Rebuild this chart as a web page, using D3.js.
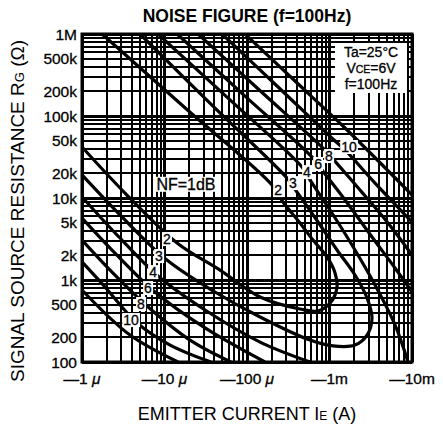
<!DOCTYPE html>
<html>
<head>
<meta charset="utf-8">
<script src="https://cdn.jsdelivr.net/npm/d3@7"></script>
<style>
  body { margin: 0; background: #fff; }
  text { font-family: "Liberation Sans", Arial, Helvetica, sans-serif; fill: #000; }
</style>
</head>
<body>
<svg id="chart" width="443" height="430"></svg>
<script>
// emitter current in µA, source resistance in ohms
const xTicks = [1, 10, 100, 1000, 10000];
const xTickLabels = ['—1 μ', '—10 μ', '—100 μ', '—1m', '—10m'];
const yTicks = [1e6, 5e5, 2e5, 1e5, 5e4, 2e4, 1e4, 5e3, 2e3, 1e3, 500, 200, 100];
const yTickLabels = ['1M', '500k', '200k', '100k', '50k', '20k', '10k', '5k', '2k', '1k', '500', '200', '100'];

// NF contours, [Ie (µA), Rg (Ω)]
const nf2 = [[1.75, 1e6], [18.7, 120000], [201, 14400], [273, 8940], [439, 4960], [631, 3070], [933, 1910],
  [1167, 1220], [1233, 822], [1042, 539], [726, 419], [439, 443], [144, 621], [47.1, 1320],
  [14.2, 2830], [3.32, 11500], [1, 41900]];
const nf3 = [[5.05, 1e6], [38.7, 132000], [305, 17500], [404, 11800], [726, 5100], [1233, 2320], [2037, 1150],
  [2851, 603], [3275, 344], [2851, 213], [2037, 161], [1102, 157], [580, 185], [144, 354],
  [40.9, 714], [10.7, 1750], [2.89, 6210], [1, 19100]];
const nf4Upper = [[8.34, 1e6], [62.2, 157000], [464, 23900], [580, 16600], [1014, 7140], [1874, 2670],
  [3563, 869], [6223, 283], [8951, 100]];
const nf4Lower = [[1, 10300], [2.73, 3440], [8.34, 1120], [31.0, 431], [144, 175], [580, 100]];
const nf6Upper = [[14.2, 1e6], [94.6, 175000], [631, 30700], [811, 21900], [1542, 9460], [3275, 3350],
  [6223, 1400], [10000, 714]];
const nf6Lower = [[1, 5700], [2.51, 2130], [7.67, 714], [31.0, 260], [165, 100]];
const nf8Upper = [[25.5, 1e6], [150, 196000], [882, 38500], [1134, 29000], [2342, 12500], [5117, 4960],
  [10000, 2020]];
const nf8Lower = [[1, 3070], [2.19, 1320], [6.14, 482], [20.4, 185], [64.0, 100]];
const nf10Upper = [[49.8, 1e6], [238, 226000], [1134, 50900], [1542, 38500], [3563, 15200], [10000, 5100]];
const nf10Lower = [[1, 1660], [1.90, 822], [4.51, 308], [11.7, 161], [36.6, 100]];
const outerUpper = [[94.6, 1e6], [382, 267000], [1542, 71400], [10000, 10900]];
const outerLower = [[1, 755], [3.82, 213], [14.6, 100]];

// contour labels: text and the point they sit on
const labelText = ['2', '3', '4', '6', '8', '10', '2', '3', '4', '6', '8', '10'];
const labelAt = [[238, 12500], [361, 15200], [534, 20700], [726, 26000], [986, 32500], [1722, 41900],
  [10.7, 3160], [8.58, 1960], [7.26, 1250], [6.31, 798], [5.19, 510], [3.93, 325]];
const minLabel = 'NF=1dB';
const minLabelAt = [18.2, 14800];

const svg = d3.select('#chart');
const plotL = 82, plotR = 412, plotT = 34, plotB = 362;

const x = d3.scaleLog().domain([1, 10000]).range([plotL, plotR]);
const y = d3.scaleLog().domain([100, 1e6]).range([plotB, plotT]);

svg.append('rect').attr('width', 443).attr('height', 430).attr('fill', '#fff');

svg.append('defs').append('clipPath').attr('id', 'plot')
  .append('rect').attr('x', plotL).attr('y', plotT).attr('width', plotR - plotL).attr('height', plotB - plotT);

// --- grid ---
const isMajor = v => Math.abs(Math.log10(v) - Math.round(Math.log10(v))) < 1e-6;
const grid = svg.append('g').attr('shape-rendering', 'crispEdges').attr('stroke', '#000');
grid.selectAll('.vx').data(x.ticks()).join('line')
  .attr('x1', d => x(d)).attr('x2', d => x(d)).attr('y1', plotT).attr('y2', plotB)
  .attr('stroke-width', d => isMajor(d) ? 3 : 2);
grid.selectAll('.hy').data(y.ticks()).join('line')
  .attr('y1', d => y(d)).attr('y2', d => y(d)).attr('x1', plotL).attr('x2', plotR)
  .attr('stroke-width', d => isMajor(d) ? 3 : 2);

// --- contours ---
const line = d3.line().x(d => x(d[0])).y(d => y(d[1])).curve(d3.curveCatmullRom.alpha(0.5));
const curves = [nf2, nf3, nf4Upper, nf4Lower, nf6Upper, nf6Lower, nf8Upper, nf8Lower,
  nf10Upper, nf10Lower, outerUpper, outerLower];
svg.append('g').attr('clip-path', 'url(#plot)')
  .selectAll('path').data(curves).join('path')
  .attr('d', line).attr('fill', 'none').attr('stroke', '#000')
  .attr('stroke-width', 3.2).attr('stroke-linejoin', 'round');

// --- labels with white backing ---
function boxedText(g, tx, ty, str, size) {
  const t = g.append('text').attr('x', tx).attr('y', ty).attr('text-anchor', 'middle')
    .attr('dy', '0.36em').attr('font-size', size).attr('stroke', '#000').attr('stroke-width', 0.3).text(str);
  const b = t.node().getBBox();
  g.insert('rect', () => t.node()).attr('x', b.x - 1).attr('y', b.y + 1)
    .attr('width', b.width + 2).attr('height', b.height - 2).attr('fill', '#fff');
}
const labels = svg.append('g');
labelText.forEach((s, i) => boxedText(labels, x(labelAt[i][0]), y(labelAt[i][1]), s, 14));
boxedText(labels, x(minLabelAt[0]), y(minLabelAt[1]), minLabel, 16);

// conditions
const cond = svg.append('g');
cond.append('rect').attr('x', 335).attr('y', 43).attr('width', 72).attr('height', 50).attr('fill', '#fff');
const ct = cond.append('g').attr('font-size', 14).attr('text-anchor', 'middle')
  .attr('stroke', '#000').attr('stroke-width', 0.3);
ct.append('text').attr('x', 371).attr('y', 56.5).text('Ta=25°C');
const vce = ct.append('text').attr('x', 371).attr('y', 72.5);
vce.append('tspan').text('V');
vce.append('tspan').attr('font-size', 10.5).text('CE');
vce.append('tspan').text('=6V');
ct.append('text').attr('x', 371).attr('y', 88.5).text('f=100Hz');

// frame
svg.append('rect').attr('x', plotL).attr('y', plotT).attr('width', plotR - plotL).attr('height', plotB - plotT)
  .attr('fill', 'none').attr('stroke', '#000').attr('stroke-width', 3);

// --- axes text ---
const yAx = svg.append('g').attr('font-size', 15.5).attr('text-anchor', 'end')
  .attr('stroke', '#000').attr('stroke-width', 0.3);
yAx.selectAll('text').data(yTicks).join('text')
  .attr('x', 77).attr('y', d => y(d)).attr('dy', '0.36em')
  .text((d, i) => yTickLabels[i]);

const xAx = svg.append('g').attr('font-size', 15.5).attr('text-anchor', 'middle')
  .attr('stroke', '#000').attr('stroke-width', 0.3);
xAx.selectAll('text').data(xTicks).join('text')
  .attr('x', d => x(d)).attr('y', 384)
  .each(function (d, i) {
    const parts = xTickLabels[i].split('μ');
    const t = d3.select(this);
    t.append('tspan').text(parts[0]);
    if (parts.length > 1) t.append('tspan').attr('font-style', 'italic').text('μ');
  });

svg.append('text').attr('x', 247).attr('y', 22).attr('text-anchor', 'middle')
  .attr('font-size', 17.5).attr('font-weight', 'bold').text('NOISE FIGURE (f=100Hz)');

const xt = svg.append('text').attr('x', 247).attr('y', 420).attr('text-anchor', 'middle')
  .attr('font-size', 18);
xt.append('tspan').text('EMITTER CURRENT I');
xt.append('tspan').attr('font-size', 12).text('E');
xt.append('tspan').text(' (A)');

const yt = svg.append('text').attr('transform', 'translate(24,211) rotate(-90)')
  .attr('text-anchor', 'middle').attr('font-size', 19);
yt.append('tspan').text('SIGNAL SOURCE RESISTANCE R');
yt.append('tspan').attr('font-size', 13).text('G');
yt.append('tspan').text(' (Ω)');
</script>
</body>
</html>
